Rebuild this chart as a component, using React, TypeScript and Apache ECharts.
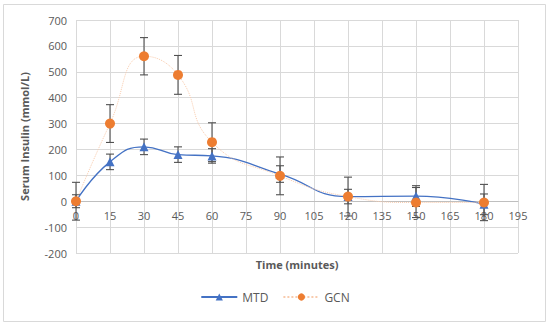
import React, { useEffect, useRef } from "react";
import * as echarts from "echarts";

const times = [0, 15, 30, 45, 60, 90, 120, 150, 180];
const mtdValues = [0, 152, 210, 180, 175, 105, 18, 20, -12];
const mtdErrors = [25, 30, 30, 30, 28, 32, 28, 40, 40];
const gcnValues = [0, 300, 560, 488, 228, 98, 18, -5, -5];
const gcnErrors = [73, 73, 72, 75, 75, 73, 75, 58, 70];
const seriesNames = ["MTD", "GCN"];
const yTitle = "Serum Insulin (mmol/L)";
const xTitle = "Time (minutes)";
const yMin = -200;
const yMax = 700;

const FONT = "'Open Sans', 'Noto Sans', sans-serif";
const TEXT = "#595959";
const GRID_TOP = 20;
const GRID_BOTTOM = 73;
const CHART_H = 326;

function errorSeries(name: string, values: number[], errs: number[]) {
  const data = times.map((t, i) => [t, values[i] - errs[i], values[i] + errs[i]]);
  return {
    type: "custom",
    name: name + "-err",
    z: 1,
    silent: true,
    data,
    encode: { x: 0, y: [1, 2] },
    renderItem: (params: any, api: any) => {
      const x = api.value(0);
      const lo = api.coord([x, api.value(1)]);
      const hi = api.coord([x, api.value(2)]);
      const cap = 4;
      const style = { stroke: "#505050", lineWidth: 1.1, fill: null };
      return {
        type: "group",
        children: [
          { type: "line", shape: { x1: lo[0], y1: lo[1], x2: hi[0], y2: hi[1] }, style },
          { type: "line", shape: { x1: lo[0] - cap, y1: lo[1], x2: lo[0] + cap, y2: lo[1] }, style },
          { type: "line", shape: { x1: hi[0] - cap, y1: hi[1], x2: hi[0] + cap, y2: hi[1] }, style },
        ],
      };
    },
  };
}

export default function App() {
  const ref = useRef<HTMLDivElement>(null);
  useEffect(() => {
    document.body.style.margin = "0";
    const chart = echarts.init(ref.current!, undefined, { renderer: "svg" });
    const plotH = CHART_H - GRID_TOP - GRID_BOTTOM;
    const zeroOffset = -plotH * ((0 - yMin) / (yMax - yMin));
    chart.setOption({
      animation: false,
      backgroundColor: "#ffffff",
      grid: { left: 76, right: 32, top: GRID_TOP, bottom: GRID_BOTTOM },
      legend: {
        bottom: 18,
        left: "center",
        itemWidth: 36,
        itemHeight: 9,
        itemGap: 14,
        data: seriesNames,
        textStyle: { color: TEXT, fontFamily: FONT, fontSize: 12 },
      },
      graphic: [
        {
          type: "rect",
          shape: { x: 3.5, y: 4.5, width: 542, height: 317 },
          style: { fill: "none", stroke: "#D9D9D9", lineWidth: 1 },
          silent: true,
        },
        {
          type: "text",
          x: 297,
          y: 264,
          style: {
            text: xTitle,
            fill: TEXT,
            font: `bold 11px ${FONT}`,
            align: "center",
            verticalAlign: "middle",
          },
        },
      ],
      xAxis: {
        type: "value",
        min: 0,
        max: 195,
        interval: 15,
        offset: zeroOffset,
        axisLine: { show: true, onZero: false, lineStyle: { color: "#BFBFBF" } },
        axisTick: { show: false },
        axisLabel: { color: TEXT, fontFamily: FONT, fontSize: 11, margin: 9 },
        splitLine: { show: true, lineStyle: { color: "#D9D9D9" } },
      },
      yAxis: {
        type: "value",
        min: yMin,
        max: yMax,
        interval: 100,
        name: yTitle,
        nameLocation: "middle",
        nameGap: 46,
        nameTextStyle: { color: TEXT, fontFamily: FONT, fontSize: 11, fontWeight: "bold" },
        axisLine: { show: false, onZero: false },
        axisTick: { show: false },
        axisLabel: { color: TEXT, fontFamily: FONT, fontSize: 11, margin: 9 },
        splitLine: { show: true, lineStyle: { color: "#D9D9D9" } },
      },
      series: [
        errorSeries("MTD", mtdValues, mtdErrors),
        errorSeries("GCN", gcnValues, gcnErrors),
        {
          name: "MTD",
          type: "line",
          z: 3,
          smooth: 0.5,
          data: times.map((t, i) => [t, mtdValues[i]]),
          symbol: "triangle",
          symbolSize: 9,
          itemStyle: { color: "#4472C4" },
          lineStyle: { color: "#4472C4", width: 1.3 },
        },
        {
          name: "GCN",
          type: "line",
          z: 4,
          smooth: 0.5,
          data: times.map((t, i) => [t, gcnValues[i]]),
          symbol: "circle",
          symbolSize: 10,
          itemStyle: { color: "#ED7D31" },
          lineStyle: { color: "#F8CBAD", width: 1, type: "dotted" },
        },
      ],
    });
    return () => chart.dispose();
  }, []);
  return <div ref={ref} style={{ width: 550, height: 326 }} />;
}
